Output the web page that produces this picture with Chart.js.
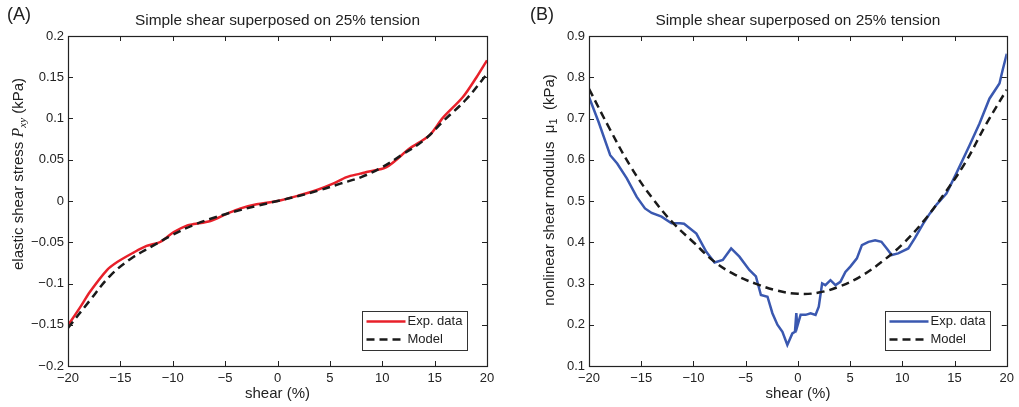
<!DOCTYPE html>
<html>
<head>
<meta charset="utf-8">
<script src="https://cdn.jsdelivr.net/npm/chart.js@4.4.0/dist/chart.umd.min.js"></script>
<style>
html, body { margin: 0; padding: 0; background: #fff; }
#wrap { position: relative; width: 1019px; height: 407px; }
.panel { position: absolute; top: 0; width: 509px; height: 407px; }
</style>
</head>
<body>
<div id="wrap">
  <div class="panel" style="left:0"><canvas id="chartA" width="509" height="407"></canvas></div>
  <div class="panel" style="left:510px"><canvas id="chartB" width="509" height="407"></canvas></div>
</div>
<script>
// Panel (A): elastic shear stress
const expShearA = [-20, -18.8, -17.9, -16.3, -15.3, -13.75, -12.5, -11.2, -9.9, -8.6, -8, -6.4, -4.8, -3.6, -2, 0,
                   2.1, 3.7, 5.3, 6.6, 7.9, 8.5, 10.4, 12.6, 14.5, 15.8, 17.7, 19, 20];
const expStressA = [-0.1507, -0.128, -0.110, -0.084, -0.074, -0.0626, -0.0545, -0.0497, -0.0376, -0.0295, -0.028, -0.0242,
                    -0.0153, -0.0092, -0.004, 0, 0.0069, 0.013, 0.021, 0.029, 0.0332, 0.0352, 0.041, 0.0635, 0.0796,
                    0.101, 0.126, 0.150, 0.1705];
const modelShear = [-20, -18, -16, -14, -12, -10, -8, -6, -4, -2, 0, 2, 4, 6, 8, 10, 12, 14, 16, 18, 20];
const modelStressA = [-0.154, -0.122, -0.091, -0.070, -0.055, -0.041, -0.029, -0.020, -0.0125, -0.006, 0,
                      0.006, 0.013, 0.021, 0.029, 0.041, 0.057, 0.074, 0.099, 0.123, 0.154];

// Panel (B): nonlinear shear modulus
const expShearB = [-20, -19.09, -17.97, -17.3, -16.38, -15.43, -14.64, -14.0, -13.05, -12.1, -11.3, -10.9, -9.72, -8.77,
                   -7.98, -7.19, -6.39, -5.6, -4.65, -4.02, -3.54, -2.91, -2.44, -1.96, -1.48, -1.01, -0.53, -0.28,
                   -0.15, -0.06, 0.26, 0.74, 1.22, 1.69, 2.0, 2.32, 2.63, 3.12, 3.6, 4.07, 4.55, 5.02, 5.65, 6.13,
                   6.76, 7.4, 8.0, 8.51, 8.98, 9.6, 10.57, 11.2, 12.0, 12.64, 13.3, 14.22, 15.17, 16.44, 17.39,
                   18.34, 19.3, 19.6, 20];
const expModulusB = [0.752, 0.692, 0.611, 0.591, 0.555, 0.510, 0.482, 0.471, 0.462, 0.446, 0.446, 0.445, 0.421, 0.377,
                     0.351, 0.357, 0.385, 0.365, 0.333, 0.317, 0.272, 0.268, 0.228, 0.200, 0.183, 0.151, 0.179, 0.183,
                     0.228, 0.196, 0.224, 0.224, 0.228, 0.224, 0.244, 0.300, 0.296, 0.308, 0.296, 0.304, 0.328, 0.341,
                     0.361, 0.393, 0.401, 0.405, 0.401, 0.385, 0.369, 0.373, 0.385, 0.410, 0.445, 0.470, 0.492, 0.518,
                     0.567, 0.635, 0.688, 0.748, 0.785, 0.817, 0.857];
const modelModulusB = [0.772, 0.674, 0.583, 0.509, 0.448, 0.400, 0.353, 0.321, 0.299, 0.283, 0.275,
                       0.278, 0.293, 0.317, 0.352, 0.395, 0.450, 0.517, 0.592, 0.685, 0.770];

// Ticks
const shearTicks = [-20, -15, -10, -5, 0, 5, 10, 15, 20];
const stressTicks = [-0.2, -0.15, -0.1, -0.05, 0, 0.05, 0.1, 0.15, 0.2];
const modulusTicks = [0.1, 0.2, 0.3, 0.4, 0.5, 0.6, 0.7, 0.8, 0.9];

const titleText = 'Simple shear superposed on 25% tension';
const FONT = '"Liberation Sans", Arial, sans-serif';
const SERIF = '"Liberation Serif", "Times New Roman", serif';

function pairs(xs, ys) {
    return xs.map((x, i) => ({ x: x, y: ys[i] }));
}

function fmtTick(v) {
    return String(+Number(v).toFixed(2)).replace('-', '\u2212');
}

// Desenha a moldura estilo MATLAB, título, letra do painel, rótulo y e legenda
const matlabFrame = {
    id: 'matlabFrame',
    afterDraw(chart, args, o) {
        const { ctx, chartArea: a, scales } = chart;
        ctx.save();

        // ticks para dentro, nos quatro lados
        ctx.strokeStyle = '#222';
        ctx.lineWidth = 1;
        ctx.beginPath();
        scales.x.ticks.forEach(t => {
            const px = Math.round(scales.x.getPixelForValue(t.value)) + 0.5;
            ctx.moveTo(px, a.bottom); ctx.lineTo(px, a.bottom - 5);
            ctx.moveTo(px, a.top); ctx.lineTo(px, a.top + 5);
        });
        scales.y.ticks.forEach(t => {
            const py = Math.round(scales.y.getPixelForValue(t.value)) + 0.5;
            ctx.moveTo(a.left, py); ctx.lineTo(a.left + 5, py);
            ctx.moveTo(a.right, py); ctx.lineTo(a.right - 5, py);
        });
        ctx.stroke();
        ctx.lineWidth = 1.2;
        ctx.strokeRect(Math.round(a.left) + 0.5, Math.round(a.top) + 0.5,
                       Math.round(a.right - a.left), Math.round(a.bottom - a.top));

        // título e letra
        ctx.fillStyle = '#222';
        ctx.textBaseline = 'middle';
        ctx.textAlign = 'center';
        ctx.font = '15.4px ' + FONT;
        ctx.fillText(titleText, (a.left + a.right) / 2, 21);
        ctx.textAlign = 'left';
        ctx.font = '18px ' + FONT;
        ctx.fillText(o.letter, o.letterX, 15);

        // rótulo do eixo y (texto com subscrito)
        let total = 0;
        o.yParts.forEach(p => { ctx.font = p.f; total += ctx.measureText(p.t).width; });
        ctx.save();
        ctx.translate(o.yTitleX, o.yTitleY);
        ctx.rotate(-Math.PI / 2);
        ctx.textBaseline = 'middle';
        let x = -total / 2;
        o.yParts.forEach(p => {
            ctx.font = p.f;
            ctx.fillText(p.t, x, p.dy || 0);
            x += ctx.measureText(p.t).width;
        });
        ctx.restore();

        // legenda
        const lw = 105, lh = 39;
        const lx = Math.round(a.right - o.legendRight - lw) + 0.5;
        const ly = Math.round(a.bottom - o.legendBottom - lh) + 0.5;
        ctx.fillStyle = '#fff';
        ctx.fillRect(lx, ly, lw, lh);
        ctx.strokeStyle = '#333';
        ctx.lineWidth = 1;
        ctx.strokeRect(lx, ly, lw, lh);
        ctx.font = '13px ' + FONT;
        chart.data.datasets.forEach((ds, i) => {
            const yy = ly + 10 + i * 18;
            ctx.strokeStyle = ds.borderColor;
            ctx.lineWidth = ds.borderWidth;
            ctx.setLineDash(ds.borderDash || []);
            ctx.beginPath();
            ctx.moveTo(lx + 4, yy);
            ctx.lineTo(lx + 43, yy);
            ctx.stroke();
            ctx.setLineDash([]);
            ctx.fillStyle = '#222';
            ctx.fillText(ds.label, lx + 45, yy);
        });
        ctx.restore();
    }
};

function makeChart(id, cfg) {
    return new Chart(document.getElementById(id), {
        type: 'line',
        data: {
            datasets: [{
                label: 'Exp. data',
                data: pairs(cfg.expX, cfg.expY),
                borderColor: cfg.color,
                borderWidth: 2.5,
                pointRadius: 0,
                tension: cfg.tension,
                order: 2
            }, {
                label: 'Model',
                data: pairs(modelShear, cfg.modelY),
                borderColor: '#1a1a1a',
                borderWidth: 2.5,
                borderDash: [8, 5],
                pointRadius: 0,
                tension: 0.4,
                order: 1
            }]
        },
        options: {
            responsive: false,
            animation: false,
            layout: { padding: { left: 0, right: cfg.padRight, top: 36, bottom: 0 } },
            plugins: {
                legend: { display: false },
                tooltip: { enabled: false },
                matlabFrame: cfg.frame
            },
            scales: {
                x: {
                    type: 'linear',
                    min: -20, max: 20,
                    afterBuildTicks: s => { s.ticks = shearTicks.map(v => ({ value: v })); },
                    afterFit: s => { s.height = 41; },
                    grid: { display: false, drawTicks: false },
                    border: { display: false },
                    ticks: { padding: 5, color: '#222', font: { family: FONT, size: 13 }, callback: fmtTick, maxRotation: 0 },
                    title: { display: true, text: 'shear (%)', color: '#222', font: { family: FONT, size: 15 }, padding: { top: 0, bottom: 4 } }
                },
                y: {
                    type: 'linear',
                    min: cfg.yMin, max: cfg.yMax,
                    afterBuildTicks: s => { s.ticks = cfg.yTicks.map(v => ({ value: v })); },
                    afterFit: s => { s.width = cfg.yWidth; },
                    grid: { display: false, drawTicks: false },
                    border: { display: false },
                    ticks: { padding: 4, color: '#222', font: { family: FONT, size: 13 }, callback: fmtTick }
                }
            }
        },
        plugins: [matlabFrame]
    });
}

makeChart('chartA', {
    expX: expShearA, expY: expStressA, modelY: modelStressA,
    color: '#e8202a', tension: 0.3,
    yMin: -0.2, yMax: 0.2, yTicks: stressTicks,
    yWidth: 68, padRight: 22,
    frame: {
        letter: '(A)', letterX: 7,
        yTitleX: 19, yTitleY: 174,
        legendRight: 20, legendBottom: 16,
        yParts: [
            { t: 'elastic shear stress ', f: '15px ' + FONT },
            { t: 'P', f: 'italic 16px ' + SERIF },
            { t: 'xy', f: 'italic 11px ' + SERIF, dy: 4 },
            { t: ' (kPa)', f: '15px ' + FONT }
        ]
    }
});

makeChart('chartB', {
    expX: expShearB, expY: expModulusB, modelY: modelModulusB,
    color: '#3a58b0', tension: 0,
    yMin: 0.1, yMax: 0.9, yTicks: modulusTicks,
    yWidth: 79, padRight: 10,
    frame: {
        letter: '(B)', letterX: 20,
        yTitleX: 40, yTitleY: 190,
        legendRight: 17, legendBottom: 16,
        yParts: [
            { t: 'nonlinear shear modulus  ', f: '15px ' + FONT },
            { t: '\u03bc', f: '15px ' + FONT },
            { t: '1', f: '11px ' + FONT, dy: 4 },
            { t: '  (kPa)', f: '15px ' + FONT }
        ]
    }
});
</script>
</body>
</html>
